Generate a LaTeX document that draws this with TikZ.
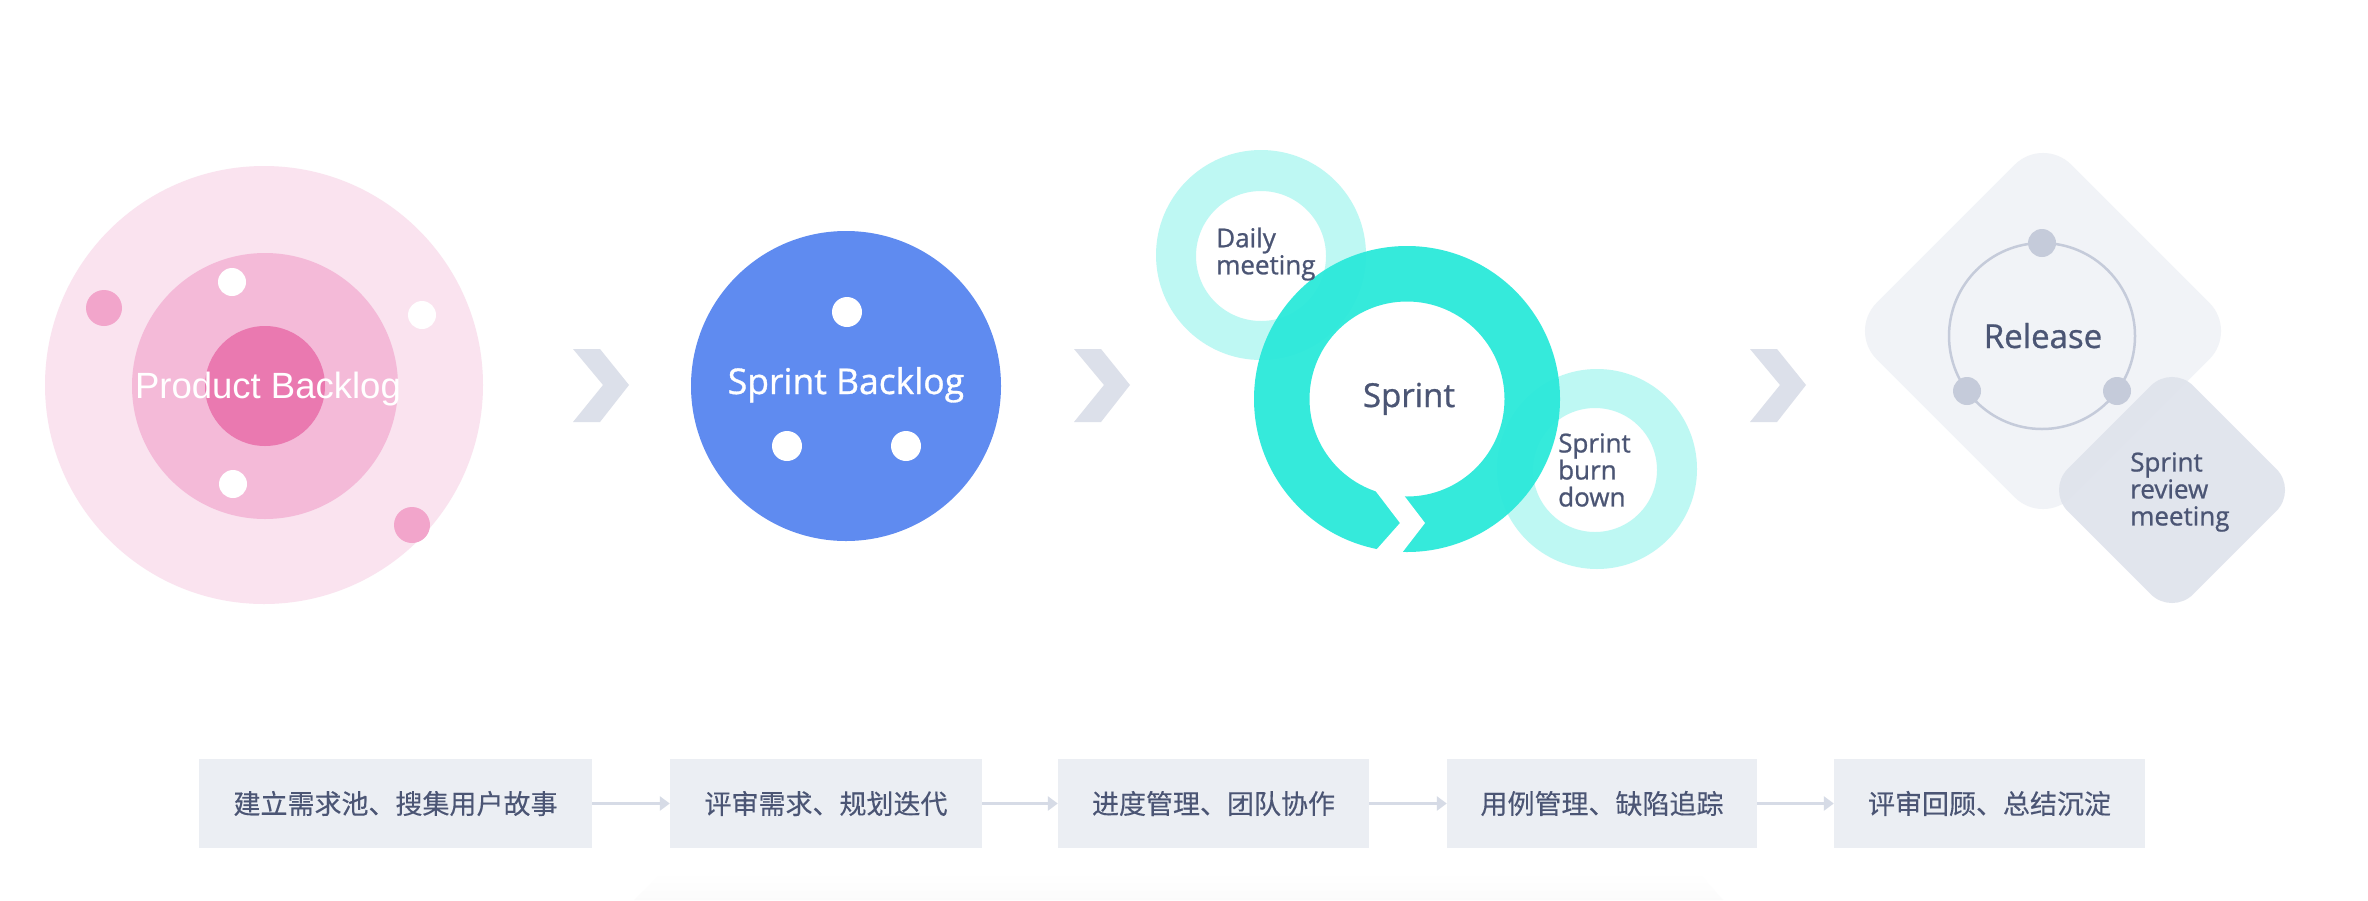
\documentclass[tikz,border=0pt]{standalone}
\usepackage{fontspec}
\usetikzlibrary{arrows.meta}
\newfontfamily\cjk[FakeBold=0.3]{Noto Sans CJK SC}
\newfontfamily\arialf{Liberation Sans}
\newfontfamily\osans[FakeBold=0.9]{Open Sans}
\definecolor{pkA}{HTML}{FAE3EF}
\definecolor{pkB}{HTML}{F4BAD8}
\definecolor{pkC}{HTML}{EA79B0}
\definecolor{pkD}{HTML}{F2A5CB}
\definecolor{blueC}{HTML}{5F8BF0}
\definecolor{chevc}{HTML}{DCE0EA}
\definecolor{tealC}{HTML}{2BE9DA}
\definecolor{tealL}{HTML}{BEF8F3}
\definecolor{txt}{HTML}{4B5574}
\definecolor{dmA}{HTML}{F1F3F7}
\definecolor{dmB}{HTML}{DFE3EC}
\definecolor{dotg}{HTML}{C5CBDA}
\definecolor{boxc}{HTML}{EBEEF3}
\definecolor{arrc}{HTML}{D6DBE6}
\begin{document}
\begin{tikzpicture}[x=1pt,y=-1pt,
  bbox/.style={fill=boxc, minimum height=89, inner sep=0, font=\cjk\fontsize{27}{30}\selectfont, text=txt},
  arr/.style={draw=arrc, line width=3, -{Triangle[length=10pt,width=14pt]}},
  smalltxt/.style={font=\osans\fontsize{26}{27}\selectfont, text=txt, align=left, anchor=west, inner sep=0},
  bigtxt/.style={font=\osans\fontsize{33}{36}\selectfont, text=txt, anchor=base, inner sep=0}]
\useasboundingbox (0,0) rectangle (2368,900);
\fill[white] (0,0) rectangle (2368,900);

% faint shadow under the step boxes
\shade[top color=white, bottom color=black!1.5] (634,900) -- (662,872) -- (1698,872) -- (1723,900) -- cycle;

% Product Backlog
\fill[pkA] (264,385) circle (219);
\fill[pkB] (265,386) circle (133);
\fill[pkC] (265,386) circle (60);
\fill[white] (232,282) circle (14);
\fill[white] (422,315) circle (14);
\fill[white] (233,484) circle (14);
\fill[pkD] (104,308) circle (18);
\fill[pkD] (412,525) circle (18);
\node[font=\arialf\fontsize{36.5}{40}\selectfont, text=white, anchor=base, inner sep=0] (pbt) at (268,398) {Product Backlog};

% chevrons
\foreach \x in {573,1074,1750}
  \fill[chevc] (\x,349) -- ++(27,0) -- ++(29,36) -- ++(-29,37) -- ++(-27,0) -- ++(30,-37) -- cycle;

% Sprint Backlog
\node[circle, fill=blueC, minimum size=310, inner sep=0] (sb) at (846,386) {};
\fill[white] (847,312) circle (15);
\fill[white] (787,446) circle (15);
\fill[white] (906,446) circle (15);
\node[font=\osans\fontsize{35.5}{38}\selectfont, text=white, anchor=base, inner sep=0] (sbt) at (846,394) {Sprint Backlog};

% Sprint rings
\fill[tealL, even odd rule] (1261,255) circle (105) (1261,256) circle (65);
\fill[tealL, even odd rule] (1597,469) circle (100) (1595,470) circle (62);
\fill[tealC, opacity=0.95, even odd rule] (1407,399) circle (153) (1407,399) circle (97.5);
\fill[white] (1371,485) -- (1400,523) -- (1369,558) -- (1398,558) -- (1425,523) -- (1396,485) -- cycle;
\node[bigtxt] (spt) at (1409,407) {Sprint};
\node[smalltxt] (dm) at (1216,254) {Daily\\meeting};
\node[smalltxt] (bd) at (1558,470) {Sprint\\burn\\down};

% Release
\begin{scope}[rotate around={45:(2043,331)}]
  \fill[dmA, rounded corners=40] (1905.4,193.4) rectangle (2180.6,468.6);
\end{scope}
\draw[dotg, line width=2.5] (2042,336) circle (93);
\fill[dotg] (2042,243) circle (14);
\fill[dotg] (1967,391) circle (14);
\fill[dotg] (2117,391) circle (14);
\node[bigtxt] (rel) at (2043,348) {Release};
\begin{scope}[rotate around={45:(2172,490)}]
  \fill[dmB, opacity=0.92, rounded corners=30] (2083.3,401.3) rectangle (2260.7,578.7);
\end{scope}
\node[smalltxt] (rv) at (2130,492) {Sprint\\review\\meeting};

% bottom steps
\node[bbox, minimum width=393] (b1) at (395.5,803.5) {建立需求池、搜集用户故事};
\node[bbox, minimum width=312] (b2) at (826,803.5) {评审需求、规划迭代};
\node[bbox, minimum width=311] (b3) at (1213.5,803.5) {进度管理、团队协作};
\node[bbox, minimum width=310] (b4) at (1602,803.5) {用例管理、缺陷追踪};
\node[bbox, minimum width=311] (b5) at (1989.5,803.5) {评审回顾、总结沉淀};
\draw[arr] (b1) -- (b2);
\draw[arr] (b2) -- (b3);
\draw[arr] (b3) -- (b4);
\draw[arr] (b4) -- (b5);
\end{tikzpicture}
\end{document}
